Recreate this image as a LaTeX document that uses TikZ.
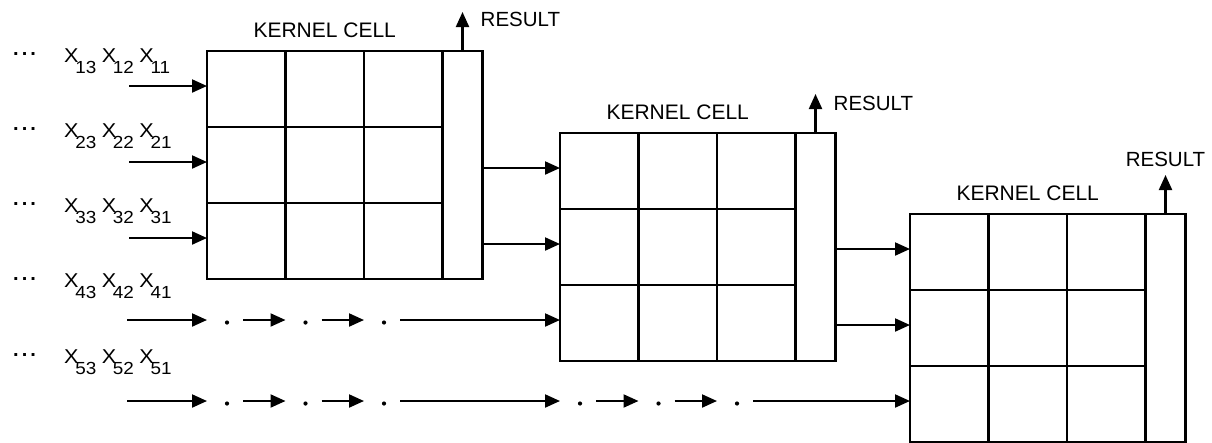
\documentclass[tikz,border=0pt]{standalone}
\usepackage{fontspec}
\setmainfont{Liberation Sans}
\usetikzlibrary{arrows.meta,calc}
\newcommand\xsub[1]{X\kern-3pt\raisebox{-11pt}{\fontsize{17.5}{18}\selectfont #1}}
\newcommand\xrow[1]{\xsub{#13}\kern5pt\xsub{#12}\kern5pt\xsub{#11}}
\newcommand\dotseg[3]{%
  \fill ($(#1 -| #2)+(20,-2.5)$) circle (2.1);
  \draw[arr] ($(#1 -| #2)+(36,0)$) -- (#1 -| #3);}
\begin{document}
\begin{tikzpicture}[x=1pt,y=1pt,
  sq/.style={draw,line width=2.1pt,minimum width=78.5pt,minimum height=76pt,inner sep=0pt,outer sep=0pt,anchor=north west},
  rc/.style={draw,line width=2.1pt,minimum width=40pt,minimum height=228pt,inner sep=0pt,outer sep=0pt,anchor=north west},
  arr/.style={line width=2.1pt,-{Triangle[length=15pt,width=13pt]}},
  klbl/.style={font=\fontsize{21}{24}\selectfont,inner sep=0pt},
  rlbl/.style={font=\fontsize{20.5}{24}\selectfont,inner sep=0pt},
  xlbl/.style={font=\fontsize{20}{22}\selectfont,inner sep=0pt,anchor=base west,xscale=1.08,transform shape},
  dlbl/.style={font=\bfseries\fontsize{20}{22}\selectfont,inner sep=0pt,anchor=base west}]
\useasboundingbox (0,0) rectangle (1212,-442);
\fill[white] (0,0) rectangle (1212,-442);

% kernel cells
\foreach \k/\x/\y in {1/207/51, 2/560/133, 3/910/214} {
  \foreach \r in {1,2,3} {
    \foreach \c in {1,2,3} {
      \node[sq] (k\k-\r-\c) at ({\x+(\c-1)*78.5},{-\y-(\r-1)*76}) {};
    }
  }
  \node[rc] (k\k-res) at ({\x+3*78.5},-\y) {};
  \node[klbl] (kl\k) at ({\x+117.75},{-\y+21}) {KERNEL CELL};
  \coordinate (r\k) at ($(k\k-res.north)+(0,39)$);
  \draw[arr] (k\k-res.north) -- (r\k);
}
\node[rlbl,anchor=west] (res1) at ($(r1)+(18,-7)$) {RESULT};
\node[rlbl,anchor=west] (res2) at ($(r2)+(18,-9)$) {RESULT};
\node[rlbl] (res3) at ($(r3)+(0,16)$) {RESULT};

% row labels
\foreach \i/\yb in {1/62,2/137,3/212,4/287,5/363} {
  \node[dlbl] (d\i) at (13,-\yb) {\raisebox{7pt}{.\kern3pt.\kern3pt.}};
  \node[xlbl] (x\i) at (64,-\yb) {\xrow{\i}};
}

% inputs to cell 1
\foreach \r/\yy in {1/86,2/162,3/238} {
  \coordinate (in\r) at (129,-\yy);
  \draw[arr] (in\r) -- (in\r -| k1-\r-1.west);
}

% cell 1 -> cell 2, cell 2 -> cell 3
\foreach \r in {1,2} {
  \coordinate (c2i\r) at ($(k2-\r-1.west)+(0,3)$);
  \draw[arr] (c2i\r -| k1-res.east) -- (c2i\r);
  \coordinate (c3i\r) at ($(k3-\r-1.west)+(0,3)$);
  \draw[arr] (c3i\r -| k2-res.east) -- (c3i\r);
}

% row 4
\coordinate (y4) at (127,-320);
\draw[arr] (y4) -- (y4 -| k1-1-1.west);
\dotseg{y4}{k1-1-1.west}{k1-1-2.west}
\dotseg{y4}{k1-1-2.west}{k1-1-3.west}
\dotseg{y4}{k1-1-3.west}{k2-3-1.west}

% row 5
\coordinate (y5) at (127,-401);
\draw[arr] (y5) -- (y5 -| k1-1-1.west);
\dotseg{y5}{k1-1-1.west}{k1-1-2.west}
\dotseg{y5}{k1-1-2.west}{k1-1-3.west}
\dotseg{y5}{k1-1-3.west}{k2-1-1.west}
\dotseg{y5}{k2-1-1.west}{k2-1-2.west}
\dotseg{y5}{k2-1-2.west}{k2-1-3.west}
\dotseg{y5}{k2-1-3.west}{k3-3-1.west}
\end{tikzpicture}
\end{document}
